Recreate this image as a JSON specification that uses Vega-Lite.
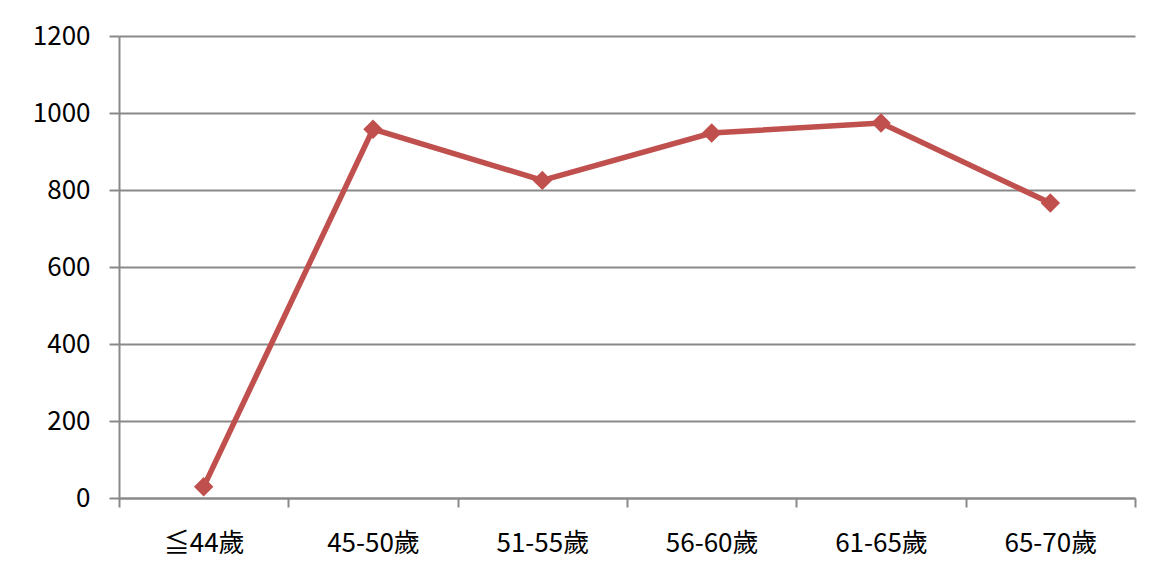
{
  "$schema": "https://vega.github.io/schema/vega-lite/v6.json",
  "autosize": "none",
  "width": 1016,
  "height": 462,
  "padding": {"left": 119, "top": 36, "right": 16, "bottom": 83},
  "background": "white",
  "config": {
    "view": {"stroke": null},
    "font": "Noto Sans CJK TC"
  },
  "data": {
    "values": [
      {"age": "≦44歲", "value": 29},
      {"age": "45-50歲", "value": 958},
      {"age": "51-55歲", "value": 825},
      {"age": "56-60歲", "value": 948},
      {"age": "61-65歲", "value": 974},
      {"age": "65-70歲", "value": 766}
    ]
  },
  "encoding": {
    "x": {
      "field": "age",
      "type": "nominal",
      "sort": null,
      "scale": {"paddingInner": 0, "paddingOuter": 0},
      "axis": {
        "title": null,
        "labelAngle": 0,
        "labelFont": "Noto Sans CJK TC",
        "labelFontSize": 26,
        "labelColor": "#000000",
        "labelPadding": 23,
        "tickBand": "extent",
        "tickSize": 9,
        "tickColor": "#898989",
        "tickWidth": 2,
        "domainColor": "#898989",
        "domainWidth": 2,
        "grid": false
      }
    },
    "y": {
      "field": "value",
      "type": "quantitative",
      "scale": {"domain": [0, 1200], "nice": false},
      "axis": {
        "title": null,
        "format": "d",
        "values": [0, 200, 400, 600, 800, 1000, 1200],
        "labelFont": "Noto Sans CJK TC",
        "labelFontSize": 26,
        "labelColor": "#000000",
        "labelPadding": 19,
        "tickSize": 10,
        "tickColor": "#898989",
        "tickWidth": 2,
        "domainColor": "#898989",
        "domainWidth": 2,
        "grid": true,
        "gridColor": "#898989",
        "gridWidth": 2
      }
    }
  },
  "layer": [
    {
      "mark": {"type": "line", "color": "#c0504d", "strokeWidth": 5.5}
    },
    {
      "mark": {"type": "point", "shape": "diamond", "filled": true, "color": "#c0504d", "opacity": 1, "size": 380}
    }
  ]
}
